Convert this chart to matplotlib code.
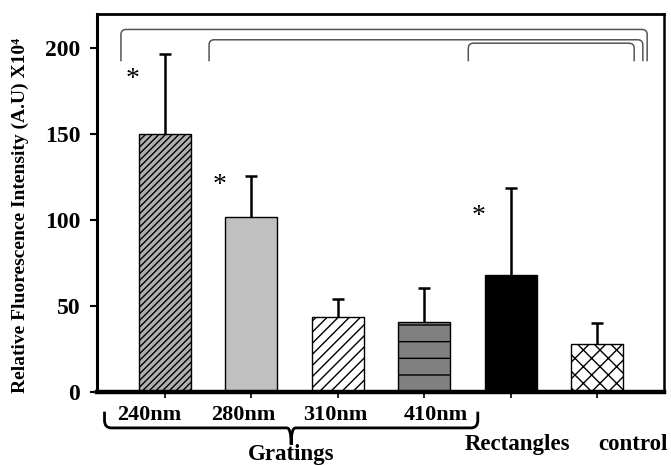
import matplotlib
matplotlib.use("Agg")
import matplotlib.pyplot as plt
from matplotlib.path import Path
from matplotlib.patches import PathPatch
import numpy as np

plt.rcParams['hatch.linewidth'] = 1.0

categories = ["240nm", "280nm", "310nm", "410nm", "Rectangles", "control"]
values = [150, 102, 43.5, 40.5, 68, 28]
errors = [46.5, 23.5, 10.5, 20, 51, 12]
yticks = [0, 50, 100, 150, 200]
star_cats = [0, 1, 4]
star_heights = [182, 120, 102]
brackets = [(0, 5, 211), (1, 5, 205), (4, 5, 203)]
group_label = "Gratings"
group_members = [0, 1, 2, 3]
ylabel = "Relative Fluorescence Intensity (A.U) X10\u2074"

faces = ["#b0b0b0", "#c0c0c0", "white", "#808080", "black", "white"]
hatches = ["/////", None, "///", "-", None, "xx"]
label_shift = [-0.18, -0.09, -0.03, 0.14, 0.08, 0.42]

serif = ["Liberation Serif", "DejaVu Serif"]

fig = plt.figure(figsize=(6.71, 4.65), dpi=100)
ax = fig.add_axes([97/671, 1 - 392/465, (664-97)/671, (392-14)/465])

x = np.arange(len(categories))
for i in range(len(categories)):
    ax.bar(x[i], values[i], width=0.6, color=faces[i], edgecolor="black",
           linewidth=1.0, hatch=hatches[i], zorder=2)
tops = np.array(values) + np.array(errors)
ax.vlines(x, values, tops, colors="black", linewidth=1.8, zorder=3)
ax.hlines(tops, x - 0.07, x + 0.07, colors="black", linewidth=1.8, zorder=3)

ax.set_xlim(-0.787, 5.775)
ax.set_ylim(0, 220)
ax.set_yticks(yticks)
ax.set_yticklabels([str(v) for v in yticks], fontfamily=serif,
                   fontweight="bold", fontsize=17)
ax.set_xticks(x)
ax.set_xticklabels([])
ax.tick_params(axis="y", direction="out", length=5, width=1.5, pad=7)
ax.tick_params(axis="x", direction="out", length=4, width=1.2)

for s, w in zip(["left", "top", "right", "bottom"], [2.2, 2.0, 1.8, 3.2]):
    ax.spines[s].set_linewidth(w)

fig.text(20/671, 1 - 215/465, ylabel, rotation=90, ha="center", va="center",
         fontfamily=serif, fontweight="bold", fontsize=14)

# x labels
trans = ax.get_xaxis_transform()
for i in group_members:
    ax.text(x[i] + label_shift[i], -0.062, categories[i], transform=trans,
            ha="center", va="center", fontfamily=serif, fontweight="bold",
            fontsize=16, clip_on=False)
for i in [4, 5]:
    ax.text(x[i] + label_shift[i], -0.14, categories[i], transform=trans,
            ha="center", va="center", fontfamily=serif, fontweight="bold",
            fontsize=16.5, clip_on=False)

# Gratings brace
xl = x[group_members[0]] - 0.7
xr = x[group_members[-1]] + 0.62
xm = (xl + xr) / 2
yt, yb, ytip = -0.052, -0.095, -0.14
r = 0.02
verts = [(xl, yt), (xl, yb + r), (xl, yb), (xl + 0.08, yb), (xm - 0.05, yb),
         (xm, yb), (xm, ytip), (xm, yb), (xm + 0.05, yb), (xr - 0.08, yb),
         (xr, yb), (xr, yb + r), (xr, yt)]
codes = [Path.MOVETO, Path.LINETO, Path.CURVE3, Path.CURVE3, Path.LINETO,
         Path.CURVE3, Path.CURVE3, Path.CURVE3, Path.CURVE3, Path.LINETO,
         Path.CURVE3, Path.CURVE3, Path.LINETO]
ax.add_patch(PathPatch(Path(verts, codes), transform=trans, fill=False,
                       edgecolor="black", linewidth=2.0, clip_on=False))
ax.text(xm, -0.165, group_label, transform=trans, ha="center", va="center",
        fontfamily=serif, fontweight="bold", fontsize=16.5, clip_on=False)

# top brackets
ylow = 192.5
for a, b, h in brackets:
    xa = x[a] - 0.51 if a == 0 else x[a] - 0.49
    xb = x[b] + (0.58 if a == 0 else 0.53 if a == 1 else 0.43)
    v = [(xa, ylow), (xa, h - 3), (xa, h), (xa + 0.06, h), (xb - 0.06, h),
         (xb, h), (xb, h - 3), (xb, ylow)]
    c = [Path.MOVETO, Path.LINETO, Path.CURVE3, Path.CURVE3, Path.LINETO,
         Path.CURVE3, Path.CURVE3, Path.LINETO]
    ax.add_patch(PathPatch(Path(v, c), fill=False, edgecolor="#555555",
                           linewidth=1.1))

for i, h in zip(star_cats, star_heights):
    ax.text(x[i] - 0.37, h, "*", ha="center", va="center", fontsize=20,
            fontfamily=serif)

fig.savefig("out.png", dpi=100)
